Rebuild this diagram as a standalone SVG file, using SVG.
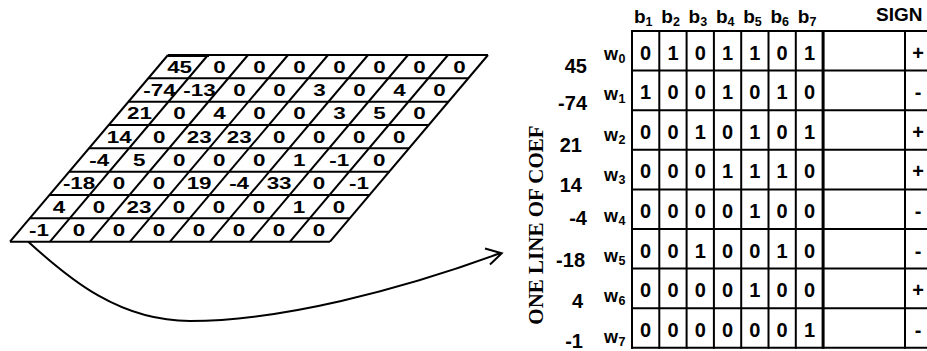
<svg xmlns="http://www.w3.org/2000/svg" width="927" height="351" viewBox="0 0 927 351">
<style>
.ln{stroke:#000;stroke-width:2;fill:none}
.gt{font-family:"Liberation Sans",Arial,sans-serif;font-weight:bold;font-size:16px;text-anchor:middle;fill:#000}
.tt{font-family:"Liberation Sans",Arial,sans-serif;font-weight:bold;font-size:20px;text-anchor:middle;fill:#000}
.lb{font-family:"Liberation Sans",Arial,sans-serif;font-weight:bold;font-size:20px;text-anchor:end;fill:#000}
.hd{font-family:"Liberation Sans",Arial,sans-serif;font-weight:bold;font-size:19px;fill:#000}
.wl{font-family:"Liberation Sans",Arial,sans-serif;font-weight:bold;font-size:18px;fill:#000}
.sb{font-size:12.5px}
.vt{font-family:"Liberation Serif","Times New Roman",serif;font-weight:bold;font-size:21px;text-anchor:middle;fill:#000}
</style>
<rect width="927" height="351" fill="#fff"/>

<g id="coef-grid">
  <g class="ln">
    <line x1="168" y1="55" x2="488" y2="55"/>
    <line x1="148.25" y1="78.33" x2="468.25" y2="78.33"/>
    <line x1="128.5" y1="101.67" x2="448.5" y2="101.67"/>
    <line x1="108.75" y1="125" x2="428.75" y2="125"/>
    <line x1="89" y1="148.33" x2="409" y2="148.33"/>
    <line x1="69.25" y1="171.67" x2="389.25" y2="171.67"/>
    <line x1="49.5" y1="195" x2="369.5" y2="195"/>
    <line x1="29.75" y1="218.33" x2="349.75" y2="218.33"/>
    <line x1="10" y1="241.67" x2="330" y2="241.67"/>
    <line x1="168" y1="55" x2="10" y2="241.67"/>
    <line x1="208" y1="55" x2="50" y2="241.67"/>
    <line x1="248" y1="55" x2="90" y2="241.67"/>
    <line x1="288" y1="55" x2="130" y2="241.67"/>
    <line x1="328" y1="55" x2="170" y2="241.67"/>
    <line x1="368" y1="55" x2="210" y2="241.67"/>
    <line x1="408" y1="55" x2="250" y2="241.67"/>
    <line x1="448" y1="55" x2="290" y2="241.67"/>
    <line x1="488" y1="55" x2="330" y2="241.67"/>
  </g>
  <line x1="168" y1="55.5" x2="209" y2="55.5" stroke="#000" stroke-width="3"/>
  <g transform="translate(179.6,72.5) scale(1.4,1)" class="gt">
    <text x="0">45</text><text x="28.57">0</text><text x="57.14">0</text><text x="85.71">0</text><text x="114.29">0</text><text x="142.86">0</text><text x="171.43">0</text><text x="200">0</text>
  </g>
  <g transform="translate(159.5,95.8) scale(1.4,1)" class="gt">
    <text x="0">-74</text><text x="28.57">-13</text><text x="57.14">0</text><text x="85.71">0</text><text x="114.29">3</text><text x="142.86">0</text><text x="171.43">4</text><text x="200">0</text>
  </g>
  <g transform="translate(139.4,119.1) scale(1.4,1)" class="gt">
    <text x="0">21</text><text x="28.57">0</text><text x="57.14">4</text><text x="85.71">0</text><text x="114.29">0</text><text x="142.86">3</text><text x="171.43">5</text><text x="200">0</text>
  </g>
  <g transform="translate(119.3,142.5) scale(1.4,1)" class="gt">
    <text x="0">14</text><text x="28.57">0</text><text x="57.14">23</text><text x="85.71">23</text><text x="114.29">0</text><text x="142.86">0</text><text x="171.43">0</text><text x="200">0</text>
  </g>
  <g transform="translate(99.2,165.8) scale(1.4,1)" class="gt">
    <text x="0">-4</text><text x="28.57">5</text><text x="57.14">0</text><text x="85.71">0</text><text x="114.29">0</text><text x="142.86">1</text><text x="171.43">-1</text><text x="200">0</text>
  </g>
  <g transform="translate(79.1,189.1) scale(1.4,1)" class="gt">
    <text x="0">-18</text><text x="28.57">0</text><text x="57.14">0</text><text x="85.71">19</text><text x="114.29">-4</text><text x="142.86">33</text><text x="171.43">0</text><text x="200">-1</text>
  </g>
  <g transform="translate(59,212.5) scale(1.4,1)" class="gt">
    <text x="0">4</text><text x="28.57">0</text><text x="57.14">23</text><text x="85.71">0</text><text x="114.29">0</text><text x="142.86">0</text><text x="171.43">1</text><text x="200">0</text>
  </g>
  <g transform="translate(38.9,235.8) scale(1.4,1)" class="gt">
    <text x="0">-1</text><text x="28.57">0</text><text x="57.14">0</text><text x="85.71">0</text><text x="114.29">0</text><text x="142.86">0</text><text x="171.43">0</text><text x="200">0</text>
  </g>
</g>

<g id="connectors">
  <path class="ln" d="M28.3,241.7 C70,280 120,321 190,321 C280,321 400,290 500,253.3"/>
  <polyline class="ln" points="485,248.5 501.7,253.3 490,264.5"/>
</g>

<g id="vertical-label">
  <text class="vt" transform="translate(543,225) rotate(-90)">ONE LINE OF COEF</text>
</g>

<g id="coef-values">
  <text class="lb" x="587" y="73">45</text>
  <text class="lb" x="587" y="110">-74</text>
  <text class="lb" x="582" y="152">21</text>
  <text class="lb" x="582" y="192">14</text>
  <text class="lb" x="587" y="225">-4</text>
  <text class="lb" x="585" y="267">-18</text>
  <text class="lb" x="583" y="308">4</text>
  <text class="lb" x="583" y="348">-1</text>
</g>

<g id="word-labels">
  <text class="wl" x="604" y="60">w<tspan class="sb" dy="3" dx="0.5">0</tspan></text>
  <text class="wl" x="604" y="100.4">w<tspan class="sb" dy="3" dx="0.5">1</tspan></text>
  <text class="wl" x="604" y="140.8">w<tspan class="sb" dy="3" dx="0.5">2</tspan></text>
  <text class="wl" x="604" y="181.2">w<tspan class="sb" dy="3" dx="0.5">3</tspan></text>
  <text class="wl" x="604" y="221.6">w<tspan class="sb" dy="3" dx="0.5">4</tspan></text>
  <text class="wl" x="604" y="262">w<tspan class="sb" dy="3" dx="0.5">5</tspan></text>
  <text class="wl" x="604" y="302.4">w<tspan class="sb" dy="3" dx="0.5">6</tspan></text>
  <text class="wl" x="604" y="342.8">w<tspan class="sb" dy="3" dx="0.5">7</tspan></text>
</g>

<g id="bit-headers">
  <text class="hd" x="634" y="23">b<tspan class="sb" dy="3">1</tspan></text>
  <text class="hd" x="661.3" y="23">b<tspan class="sb" dy="3">2</tspan></text>
  <text class="hd" x="688.6" y="23">b<tspan class="sb" dy="3">3</tspan></text>
  <text class="hd" x="715.9" y="23">b<tspan class="sb" dy="3">4</tspan></text>
  <text class="hd" x="743.2" y="23">b<tspan class="sb" dy="3">5</tspan></text>
  <text class="hd" x="770.5" y="23">b<tspan class="sb" dy="3">6</tspan></text>
  <text class="hd" x="797.8" y="23">b<tspan class="sb" dy="3">7</tspan></text>
  <text class="hd" x="876" y="21" font-size="19.5">SIGN</text>
</g>

<g id="bit-table">
  <g class="ln">
    <line x1="631" y1="31" x2="930" y2="31"/>
    <line x1="631" y1="70.6" x2="930" y2="70.6"/>
    <line x1="631" y1="110.2" x2="930" y2="110.2"/>
    <line x1="631" y1="149.8" x2="930" y2="149.8"/>
    <line x1="631" y1="189.4" x2="930" y2="189.4"/>
    <line x1="631" y1="229" x2="930" y2="229"/>
    <line x1="631" y1="268.6" x2="930" y2="268.6"/>
    <line x1="631" y1="308.2" x2="930" y2="308.2"/>
    <line x1="631" y1="347.8" x2="930" y2="347.8"/>
    <line x1="632" y1="30" x2="632" y2="348.8"/>
    <line x1="659.3" y1="30" x2="659.3" y2="348.8"/>
    <line x1="686.6" y1="30" x2="686.6" y2="348.8"/>
    <line x1="713.9" y1="30" x2="713.9" y2="348.8"/>
    <line x1="741.2" y1="30" x2="741.2" y2="348.8"/>
    <line x1="768.5" y1="30" x2="768.5" y2="348.8"/>
    <line x1="795.8" y1="30" x2="795.8" y2="348.8"/>
    <line x1="823.1" y1="30" x2="823.1" y2="348.8" stroke-width="3"/>
    <line x1="905" y1="30" x2="905" y2="348.8"/>
  </g>
  <g class="tt">
    <text y="59.5"><tspan x="645.65">0</tspan><tspan x="672.95">1</tspan><tspan x="700.25">0</tspan><tspan x="727.55">1</tspan><tspan x="754.85">1</tspan><tspan x="782.15">0</tspan><tspan x="809.45">1</tspan><tspan x="918">+</tspan></text>
    <text y="99.1"><tspan x="645.65">1</tspan><tspan x="672.95">0</tspan><tspan x="700.25">0</tspan><tspan x="727.55">1</tspan><tspan x="754.85">0</tspan><tspan x="782.15">1</tspan><tspan x="809.45">0</tspan><tspan x="918">-</tspan></text>
    <text y="138.7"><tspan x="645.65">0</tspan><tspan x="672.95">0</tspan><tspan x="700.25">1</tspan><tspan x="727.55">0</tspan><tspan x="754.85">1</tspan><tspan x="782.15">0</tspan><tspan x="809.45">1</tspan><tspan x="918">+</tspan></text>
    <text y="178.3"><tspan x="645.65">0</tspan><tspan x="672.95">0</tspan><tspan x="700.25">0</tspan><tspan x="727.55">1</tspan><tspan x="754.85">1</tspan><tspan x="782.15">1</tspan><tspan x="809.45">0</tspan><tspan x="918">+</tspan></text>
    <text y="217.9"><tspan x="645.65">0</tspan><tspan x="672.95">0</tspan><tspan x="700.25">0</tspan><tspan x="727.55">0</tspan><tspan x="754.85">1</tspan><tspan x="782.15">0</tspan><tspan x="809.45">0</tspan><tspan x="918">-</tspan></text>
    <text y="257.5"><tspan x="645.65">0</tspan><tspan x="672.95">0</tspan><tspan x="700.25">1</tspan><tspan x="727.55">0</tspan><tspan x="754.85">0</tspan><tspan x="782.15">1</tspan><tspan x="809.45">0</tspan><tspan x="918">-</tspan></text>
    <text y="297.1"><tspan x="645.65">0</tspan><tspan x="672.95">0</tspan><tspan x="700.25">0</tspan><tspan x="727.55">0</tspan><tspan x="754.85">1</tspan><tspan x="782.15">0</tspan><tspan x="809.45">0</tspan><tspan x="918">+</tspan></text>
    <text y="336.7"><tspan x="645.65">0</tspan><tspan x="672.95">0</tspan><tspan x="700.25">0</tspan><tspan x="727.55">0</tspan><tspan x="754.85">0</tspan><tspan x="782.15">0</tspan><tspan x="809.45">1</tspan><tspan x="918">-</tspan></text>
  </g>
</g>
</svg>
